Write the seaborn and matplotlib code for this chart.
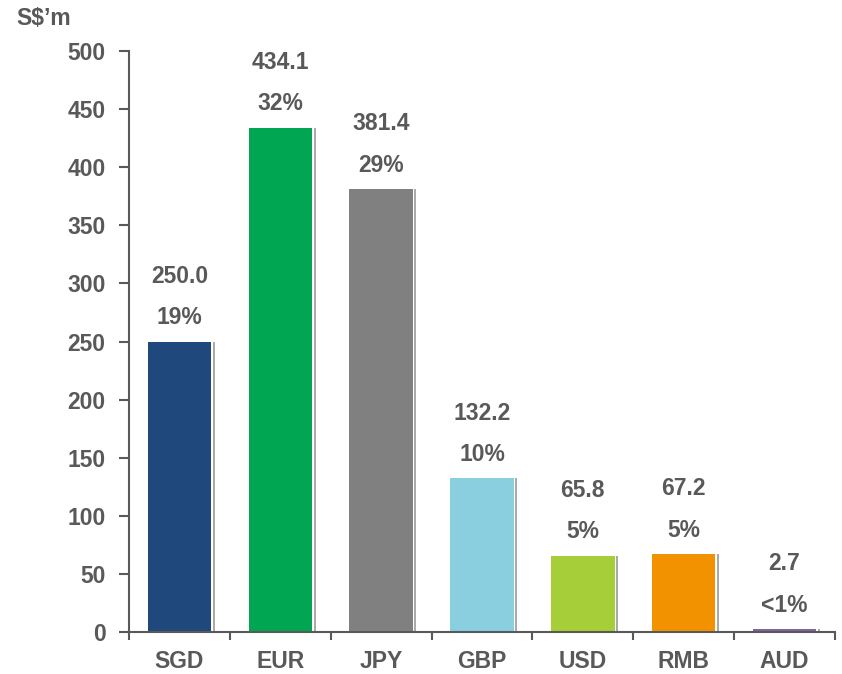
import matplotlib
matplotlib.use("Agg")
import matplotlib.pyplot as plt
import seaborn as sns
import pandas as pd
import numpy as np

currencies = ["SGD", "EUR", "JPY", "GBP", "USD", "RMB", "AUD"]
amounts = [250.0, 434.1, 381.4, 132.2, 65.8, 67.2, 2.7]
shares = ["19%", "32%", "29%", "10%", "5%", "5%", "<1%"]
colors = ["#1F497D", "#00A651", "#808080", "#8ACFDF", "#A6CE39", "#F39200", "#8064A2"]
y_ticks = [0, 50, 100, 150, 200, 250, 300, 350, 400, 450, 500]

sns.set_theme(style="white")
plt.rcParams["font.family"] = ["Liberation Sans", "DejaVu Sans"]
plt.rcParams["font.weight"] = "bold"

text_color = "#595959"
axis_color = "#595959"
fs = 16.5

df = pd.DataFrame({"currency": currencies, "amount": amounts})

fig = plt.figure(figsize=(8.42, 6.74), dpi=100)
ax = fig.add_axes([0.1532, 0.0623, 0.9917 - 0.1532, 0.9243 - 0.0623])

bar_w = 0.63
sns.barplot(data=df, x="currency", y="amount", hue="currency",
            palette=colors, width=bar_w, legend=False, ax=ax,
            saturation=1, edgecolor="none")

# thin shadow line along the right side of each bar
for i, v in enumerate(amounts):
    ax.vlines(i + bar_w / 2 + 0.025, 0, v, color="#9a9a9a", lw=1.2, zorder=1)

# value and share labels above each bar
for i, (v, s) in enumerate(zip(amounts, shares)):
    ax.annotate(f"{v:.1f}", (i, v), xytext=(0, 47), textcoords="offset points",
                ha="center", va="center", fontsize=fs, fontweight="bold",
                color=text_color)
    ax.annotate(s, (i, v), xytext=(0, 17), textcoords="offset points",
                ha="center", va="center", fontsize=fs, fontweight="bold",
                color=text_color)

ax.set_xlim(-0.5, len(currencies) - 0.5)
ax.set_ylim(0, 500)
ax.set_yticks(y_ticks)
ax.set_yticklabels([str(t) for t in y_ticks])
ax.set_xlabel("")
ax.set_ylabel("")

for side in ["top", "right"]:
    ax.spines[side].set_visible(False)
for side in ["left", "bottom"]:
    ax.spines[side].set_color(axis_color)
    ax.spines[side].set_linewidth(1.5)

ax.tick_params(axis="y", which="major", direction="out", length=7, width=1.5,
               color=axis_color, labelsize=fs, labelcolor=text_color, pad=10, left=True)
ax.tick_params(axis="x", which="major", length=0, labelsize=fs,
               labelcolor=text_color, pad=13)
ax.set_xticks(np.arange(-0.5, len(currencies)), minor=True)
ax.tick_params(axis="x", which="minor", direction="out", length=6, width=1.5,
               color=axis_color, bottom=True)
for lab in ax.get_xticklabels() + ax.get_yticklabels():
    lab.set_fontweight("bold")

fig.text(0.02, 0.973, "S$\u2019m", ha="left", va="center", fontsize=fs,
         fontweight="bold", color=text_color)

fig.savefig("out.png", dpi=100)
